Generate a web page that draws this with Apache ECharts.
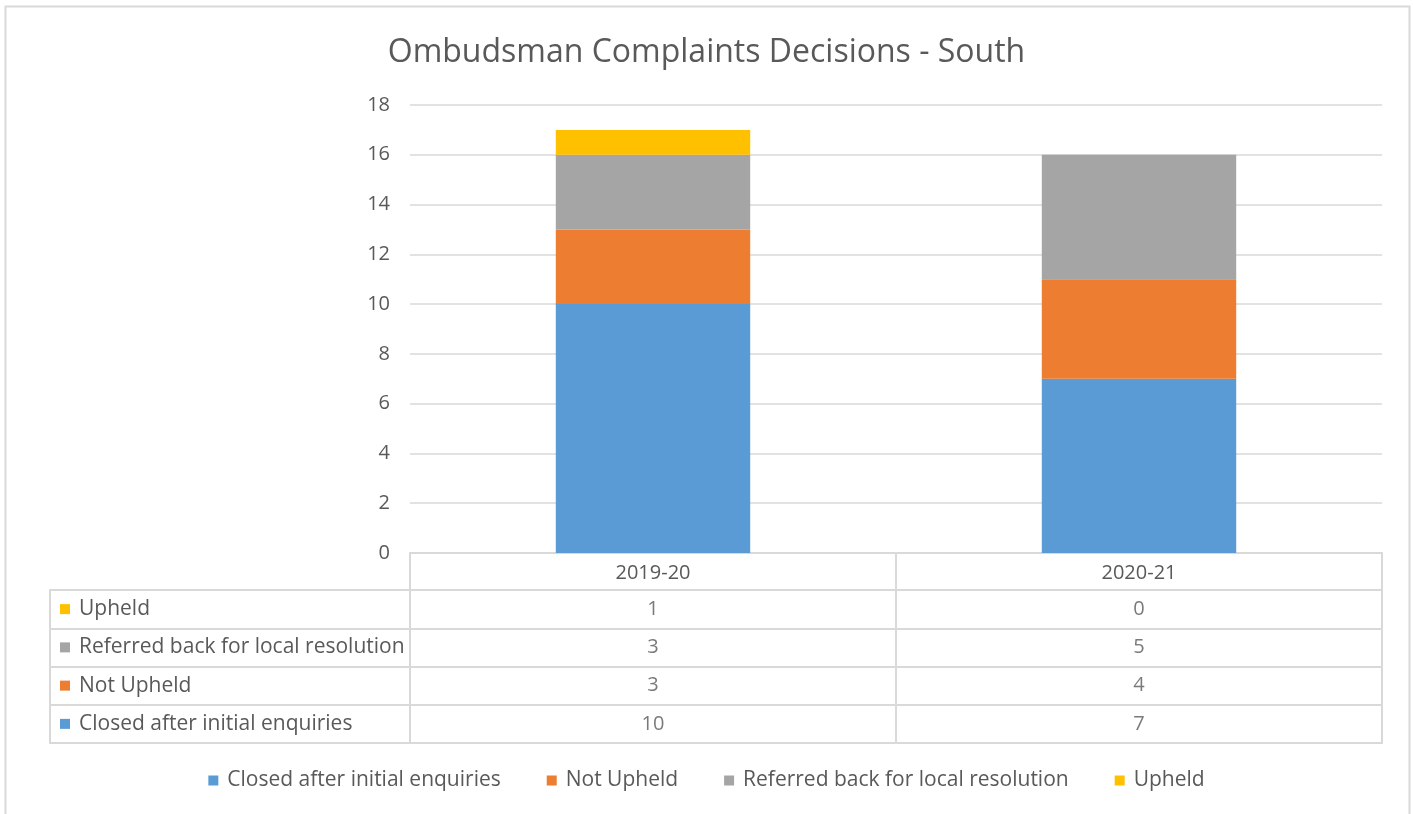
<!DOCTYPE html>
<html>
<head>
<meta charset="utf-8">
<script src="https://cdn.jsdelivr.net/npm/echarts@6/dist/echarts.min.js"></script>
<style>
  html, body { margin: 0; padding: 0; background: #fff; }
  #chart { width: 1413px; height: 814px; }
</style>
</head>
<body>
<div id="chart"></div>
<script>
// data
var years = ['2019-20', '2020-21'];
var seriesNames = ['Closed after initial enquiries', 'Not Upheld', 'Referred back for local resolution', 'Upheld'];
var closedVals = [10, 7];
var notUpheldVals = [3, 4];
var referredVals = [3, 5];
var upheldVals = [1, 0];
var yTicks = [0, 2, 4, 6, 8, 10, 12, 14, 16, 18];

var colors = ['#5B9BD5', '#ED7D31', '#A5A5A5', '#FFC000'];
var allVals = [closedVals, notUpheldVals, referredVals, upheldVals];
var textCol = '#595959';
var lineCol = '#d9d9d9';
var font = 'Open Sans';
var fs = 20;
var fsText = 21;

var chart = echarts.init(document.getElementById('chart'));

// bar series
var series = [];
for (var s = 0; s < seriesNames.length; s++) {
    series.push({
        name: seriesNames[s],
        type: 'bar',
        stack: 'total',
        barWidth: '40%',
        xAxisIndex: 0,
        yAxisIndex: 0,
        itemStyle: { color: colors[s] },
        data: allVals[s]
    });
}

// table values, placed through the table grid's axes
var tableData = [];
for (var s = 0; s < seriesNames.length; s++) {
    for (var c = 0; c < years.length; c++) {
        tableData.push([c, s, allVals[s][c]]);
    }
}
series.push({
    name: 'table',
    type: 'scatter',
    xAxisIndex: 1,
    yAxisIndex: 1,
    symbolSize: 1,
    itemStyle: { color: 'rgba(0,0,0,0)' },
    label: {
        show: true,
        position: 'inside',
        color: textCol,
        fontSize: fs,
        fontFamily: font,
        formatter: function (p) { return p.value[2]; }
    },
    silent: true,
    data: tableData
});

// rich styles for colored keys in the table
var rich = { t: { color: textCol, fontSize: fsText, fontFamily: font, padding: [0, 0, 0, 9] } };
for (var i = 0; i < colors.length; i++) {
    rich['m' + i] = { width: 10, height: 10, backgroundColor: colors[i] };
}

chart.setOption({
    animation: false,
    title: {
        text: 'Ombudsman Complaints Decisions - South',
        left: 'center',
        top: 32,
        textStyle: { color: textCol, fontSize: 32, fontWeight: 'normal', fontFamily: font }
    },
    legend: {
        data: seriesNames,
        top: 765,
        left: 'center',
        icon: 'rect',
        itemWidth: 10,
        itemHeight: 10,
        itemGap: 46,
        textStyle: { color: textCol, fontSize: fsText, fontFamily: font, padding: [0, 0, 0, 4] }
    },
    graphic: [{
        type: 'rect',
        shape: { x: 5.5, y: 6.5, width: 1404, height: 830 },
        style: { fill: 'none', stroke: lineCol, lineWidth: 2 },
        silent: true
    }],
    grid: [
        { left: 410, right: 31, top: 105, bottom: 261 },
        { left: 410, right: 31, top: 590, bottom: 71, show: true, borderColor: lineCol, borderWidth: 2 }
    ],
    xAxis: [{
        type: 'category',
        gridIndex: 0,
        data: years,
        axisLine: { lineStyle: { color: lineCol, width: 2 } },
        axisTick: { show: true, length: 37, lineStyle: { color: lineCol, width: 2 } },
        axisLabel: { color: textCol, fontSize: fs, fontFamily: font, margin: 10 }
    }, {
        type: 'category',
        gridIndex: 1,
        data: years,
        axisLine: { show: false },
        axisTick: { show: false },
        axisLabel: { show: false },
        splitLine: { show: true, lineStyle: { color: lineCol, width: 2 } }
    }],
    yAxis: [{
        type: 'value',
        gridIndex: 0,
        min: yTicks[0],
        max: yTicks[yTicks.length - 1],
        interval: 2,
        axisLine: { show: false },
        axisTick: { show: false },
        axisLabel: { color: textCol, fontSize: fs, fontFamily: font, margin: 20 },
        splitLine: { lineStyle: { color: lineCol, width: 1.5 } }
    }, {
        type: 'category',
        gridIndex: 1,
        data: seriesNames,
        axisLine: { show: false },
        axisTick: { show: true, length: 360, lineStyle: { color: lineCol, width: 2 } },
        axisLabel: {
            align: 'left',
            margin: 350,
            formatter: function (v, idx) { return '{m' + idx + '|}{t|' + v + '}'; },
            rich: rich
        },
        splitLine: { show: true, lineStyle: { color: lineCol, width: 2 } }
    }, {
        type: 'category',
        gridIndex: 1,
        data: seriesNames,
        position: 'left',
        offset: 360,
        axisLine: { show: true, lineStyle: { color: lineCol, width: 2 } },
        axisTick: { show: false },
        axisLabel: { show: false }
    }],
    series: series
});
</script>
</body>
</html>
